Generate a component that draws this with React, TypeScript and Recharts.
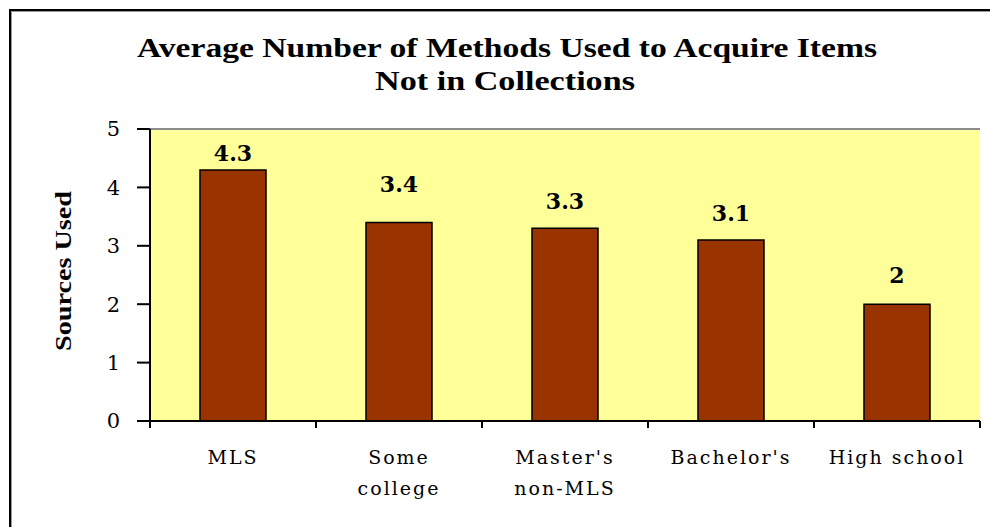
import { Bar, BarChart, CartesianGrid, LabelList, ReferenceLine, XAxis, YAxis } from "recharts";

const categories = ["MLS", "Some college", "Master's non-MLS", "Bachelor's", "High school"];
const categoryLines = [["MLS"], ["Some", "college"], ["Master's", "non-MLS"], ["Bachelor's"], ["High school"]];
const sourcesUsed = [4.3, 3.4, 3.3, 3.1, 2];
const yTicks = [0, 1, 2, 3, 4, 5];
const titleLines = ["Average Number  of Methods Used to Acquire Items", "Not in Collections"];

// how far each value label sits above its bar (the original places them unevenly)
const labelLift = [9, 30, 19, 19, 21];

const W = 990;
const H = 527;
const margin = { top: 129, right: 10, bottom: 26, left: 50 };
const yAxisWidth = 100;
const plotWidth = W - margin.left - yAxisWidth - margin.right;
const halfBand = plotWidth / categories.length / 2;

const data = categories.map((name, i) => ({ name, value: sourcesUsed[i], index: i }));

const serif = "'DejaVu Serif', serif";
const titleFont = "'Liberation Serif', 'Times New Roman', serif";

function CategoryTick(props: any) {
  const { x, y, payload, index } = props;
  const lines = categoryLines[index] ?? [payload.value];
  const last = index === categories.length - 1;
  return (
    <g>
      <line x1={x - halfBand} x2={x - halfBand} y1={y} y2={y + 7} stroke="#000" strokeWidth={2} />
      {last && <line x1={x + halfBand} x2={x + halfBand} y1={y} y2={y + 7} stroke="#000" strokeWidth={2} />}
      <text x={x} y={y + 43} textAnchor="middle" fontFamily={serif} fontSize={19} letterSpacing={2} fill="#000">
        {lines.map((line: string, i: number) => (
          <tspan key={i} x={x} dy={i === 0 ? 0 : 31}>
            {line}
          </tspan>
        ))}
      </text>
    </g>
  );
}

function ValueLabel(props: any) {
  const { x, y, width, value, index } = props;
  return (
    <text x={x + width / 2} y={y - labelLift[index]} textAnchor="middle" fontFamily={serif} fontWeight="bold" fontSize={22} fill="#000">
      {value}
    </text>
  );
}

function AxisTitle(props: any) {
  const { viewBox } = props;
  const cx = viewBox.x + 13;
  const cy = viewBox.y + viewBox.height / 2 - 4;
  return (
    <text
      x={cx}
      y={cy}
      transform={`rotate(-90 ${cx} ${cy})`}
      textAnchor="middle"
      dominantBaseline="central"
      fontFamily={titleFont}
      fontWeight="bold"
      fontSize={23}
      textLength={160}
      lengthAdjust="spacingAndGlyphs"
      fill="#000"
    >
      Sources Used
    </text>
  );
}

export default function App() {
  return (
    <div style={{ position: "absolute", left: 0, top: 0, width: W, height: H, background: "#fff" }}>
      <div
        style={{
          position: "absolute",
          left: 9,
          top: 9,
          right: 0,
          bottom: 0,
          borderTop: "2px solid #000",
          borderLeft: "2px solid #000",
          boxShadow: "inset 1px 1px 0 #999",
        }}
      />
      <svg width={W} height={110} style={{ position: "absolute", left: 0, top: 0 }}>
        <text x={507} y={57} textAnchor="middle" fontFamily={titleFont} fontWeight="bold" fontSize={27} textLength={740} lengthAdjust="spacingAndGlyphs">
          {titleLines[0]}
        </text>
        <text x={505} y={90} textAnchor="middle" fontFamily={titleFont} fontWeight="bold" fontSize={27} textLength={260} lengthAdjust="spacingAndGlyphs">
          {titleLines[1]}
        </text>
      </svg>
      <div style={{ position: "absolute", left: 0, top: 0 }}>
        <BarChart width={W} height={H} data={data} margin={margin} barSize={66}>
          <CartesianGrid yAxisId="left" fill="#FFFF99" fillOpacity={1} horizontal={false} vertical={false} />
          <XAxis
            dataKey="name"
            height={80}
            axisLine={{ stroke: "#000", strokeWidth: 2 }}
            tickLine={false}
            tickSize={0}
            tickMargin={0}
            interval={0}
            tick={<CategoryTick />}
          />
          <YAxis
            yAxisId="left"
            width={yAxisWidth}
            domain={[0, 5]}
            ticks={yTicks}
            interval={0}
            axisLine={{ stroke: "#000", strokeWidth: 2 }}
            tickLine={{ stroke: "#000", strokeWidth: 2 }}
            tickSize={13}
            tickMargin={17}
            tick={{ fill: "#000", fontSize: 21, fontFamily: serif }}
            label={<AxisTitle />}
          />
          <YAxis
            yAxisId="right"
            orientation="right"
            width={0}
            domain={[0, 5]}
            tick={false}
            tickLine={false}
            axisLine={{ stroke: "#8c8c8c", strokeWidth: 2 }}
          />
          <ReferenceLine yAxisId="left" y={5} stroke="#8c8c8c" strokeWidth={2} />
          <Bar yAxisId="left" dataKey="value" fill="#993300" stroke="#000" strokeWidth={1.5} isAnimationActive={false}>
            <LabelList dataKey="value" content={<ValueLabel />} />
          </Bar>
        </BarChart>
      </div>
    </div>
  );
}
